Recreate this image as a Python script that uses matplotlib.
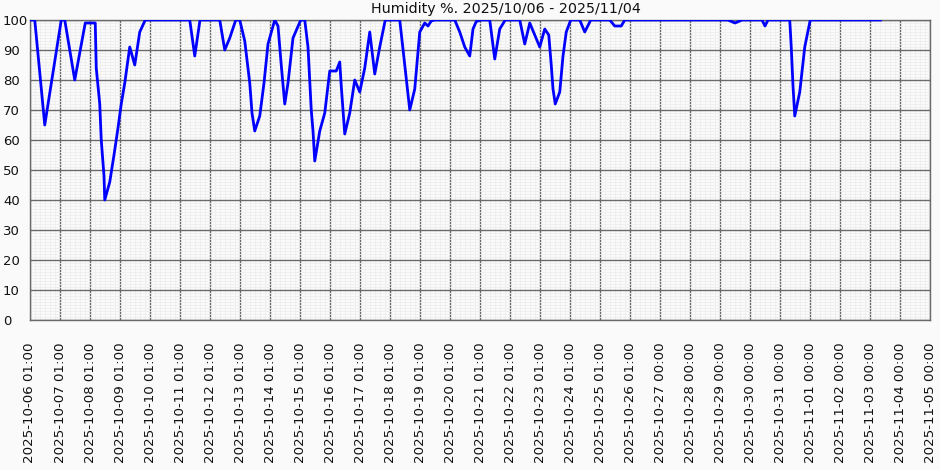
import matplotlib
matplotlib.use('Agg')
import matplotlib.pyplot as plt
from matplotlib.ticker import MultipleLocator

# hours since 2025-10-06 01:00 and humidity in %
hours = [0, 3.8, 11.8, 25, 27.8, 35.8, 44.2, 52.2, 53, 55.8, 57, 59.2, 59.8,
         63.8, 67.2, 70.4, 73, 75.8, 79.8, 83.8, 87.8, 92.2, 127.8, 131.8,
         136, 151.8, 155.8, 159.8, 164.6, 167.8, 171.8, 175.8, 177.6, 179.8,
         183.8, 187.2, 190.4, 195.8, 198.4, 201, 203.8, 206.4, 210.4, 216.6,
         219.8, 222.4, 225, 226.4, 227.8, 231.8, 235.8, 239.8, 245, 247.8,
         249, 251.8, 255.8, 259.8, 263.8, 267.8, 271.8, 275.8, 279.8, 284.2,
         295.8, 299.8, 303.8, 307.8, 311.8, 315.8, 318.4, 321, 323.8, 339.8,
         343.8, 347.8, 351.8, 354.4, 357, 361, 367.8, 371.8, 375.8, 380.2,
         391.8, 395.8, 399.8, 407.8, 411.8, 415, 417, 418.4, 420.2, 423.8,
         426.4, 429, 432.6, 439.8, 443.8, 448.6, 463.8, 467.8, 473, 475.8,
         558.4, 564, 569.6, 585.6, 588, 590.4, 607.8, 609, 610.4, 611.8,
         615.8, 619.8, 624.2, 680.4]
humidity = [100, 100, 65, 100, 100, 80, 99, 99, 84, 72, 60, 48, 40,
            46, 55, 64, 72, 79, 91, 85, 96, 100, 100, 88,
            100, 100, 90, 94, 100, 100, 93, 79, 69, 63,
            68, 79, 92, 100, 98, 85, 72, 79, 94, 100,
            100, 91, 70, 63, 53, 63, 69, 83, 83, 86,
            78, 62, 69, 80, 76, 84, 96, 82, 91, 100,
            100, 85, 70, 77, 96, 99, 98, 99.7, 100, 100,
            96, 91, 88, 97, 99.5, 100, 100, 87, 97, 100,
            100, 92, 99, 91, 97, 95, 85, 77, 72, 76,
            88, 96, 100, 100, 96, 100, 100, 98, 98, 100,
            100, 99, 100, 100, 98, 100, 100, 91, 78, 68,
            76, 91, 100, 100]

tick_labels = ['2025-10-06 01:00', '2025-10-07 01:00', '2025-10-08 01:00',
               '2025-10-09 01:00', '2025-10-10 01:00', '2025-10-11 01:00',
               '2025-10-12 01:00', '2025-10-13 01:00', '2025-10-14 01:00',
               '2025-10-15 01:00', '2025-10-16 01:00', '2025-10-17 01:00',
               '2025-10-18 01:00', '2025-10-19 01:00', '2025-10-20 01:00',
               '2025-10-21 01:00', '2025-10-22 01:00', '2025-10-23 01:00',
               '2025-10-24 01:00', '2025-10-25 01:00', '2025-10-26 01:00',
               '2025-10-27 00:00', '2025-10-28 00:00', '2025-10-29 00:00',
               '2025-10-30 00:00', '2025-10-31 00:00', '2025-11-01 00:00',
               '2025-11-02 00:00', '2025-11-03 00:00', '2025-11-04 00:00',
               '2025-11-05 00:00']
tick_hours = [24 * i for i in range(len(tick_labels))]

bg = '#fafafa'
fig = plt.figure(figsize=(9.4, 4.7), dpi=100, facecolor=bg)
ax = fig.add_axes([30 / 940, 150 / 470, 900 / 940, 300 / 470])
ax.set_facecolor(bg)

ax.plot(hours, humidity, color='#0000ff', lw=2, zorder=3)

ax.set_xlim(0, 720)
ax.set_ylim(0, 100)
ax.set_xticks(tick_hours)
ax.set_xticklabels(tick_labels, rotation=90, fontsize=9.6, color='#111111')
ax.xaxis.set_minor_locator(MultipleLocator(4))
ax.yaxis.set_major_locator(MultipleLocator(10))
ax.yaxis.set_minor_locator(MultipleLocator(1))

ax.grid(which='minor', color='#eeeeee', lw=0.6, zorder=0)
ax.grid(which='major', color='#6a6a6a', lw=1, zorder=1)
ax.set_axisbelow(True)
for s in ax.spines.values():
    s.set_color('#6a6a6a')
    s.set_linewidth(1)

ax.tick_params(which='both', length=0)
ax.tick_params(axis='x', pad=16)
ax.tick_params(axis='y', pad=19.5, labelsize=9.5, labelcolor='#111111')
for lbl in ax.get_yticklabels():
    lbl.set_horizontalalignment('left')

fig.text(506 / 940, 1 - 9.5 / 470, 'Humidity %. 2025/10/06 - 2025/11/04',
         ha='center', va='center', fontsize=10.3, color='#111111')

fig.savefig('out.png', dpi=100, facecolor=bg)
